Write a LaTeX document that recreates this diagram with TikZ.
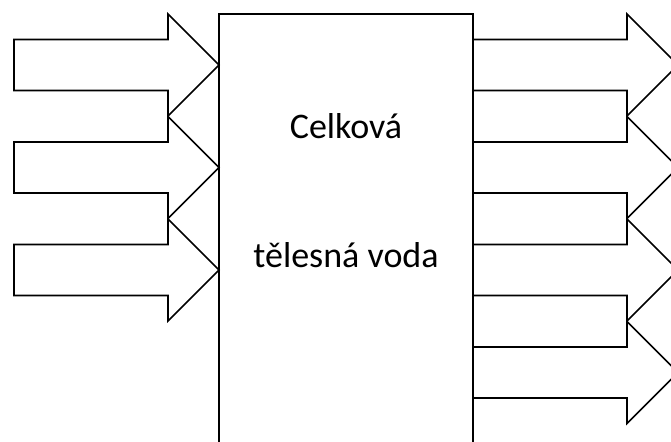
\documentclass[tikz,border=0pt]{standalone}
\usepackage{fontspec}
\setmainfont{Carlito}
\usetikzlibrary{positioning}
\tikzset{
    poolbox/.style={draw=black, line width=0.8pt},
    flowarr/.style={draw=black, line width=0.8pt, fill=white, line join=miter},
    pooltext/.style={anchor=base, font=\fontsize{18}{22}\selectfont, inner sep=0pt}
}
% block arrow: shaft start x, centre y, tip x
\newcommand{\flowarrow}[3]{%
    \draw[flowarr] (#1,#2-25.5) -- (#3-51,#2-25.5) -- (#3-51,#2-51) -- (#3,#2)
        -- (#3-51,#2+51) -- (#3-51,#2+25.5) -- (#1,#2+25.5) -- cycle;}
\begin{document}
\begin{tikzpicture}[x=0.5pt, y=-0.5pt]
        \useasboundingbox (0,0) rectangle (671,441);
        % total body water
        \draw[poolbox] (219,14) rectangle (473,480);
        \node[pooltext] (line1) at (346,138) {Celková};
        \node[pooltext] (line2) at (346,267) {tělesná voda};
        % inflows
        \foreach \y in {65, 167.5, 270} {\flowarrow{14}{\y}{219}}
        % outflows
        \foreach \y in {65, 167.5, 270, 372.5} {\flowarrow{473}{\y}{678}}
    \end{tikzpicture}
\end{document}
